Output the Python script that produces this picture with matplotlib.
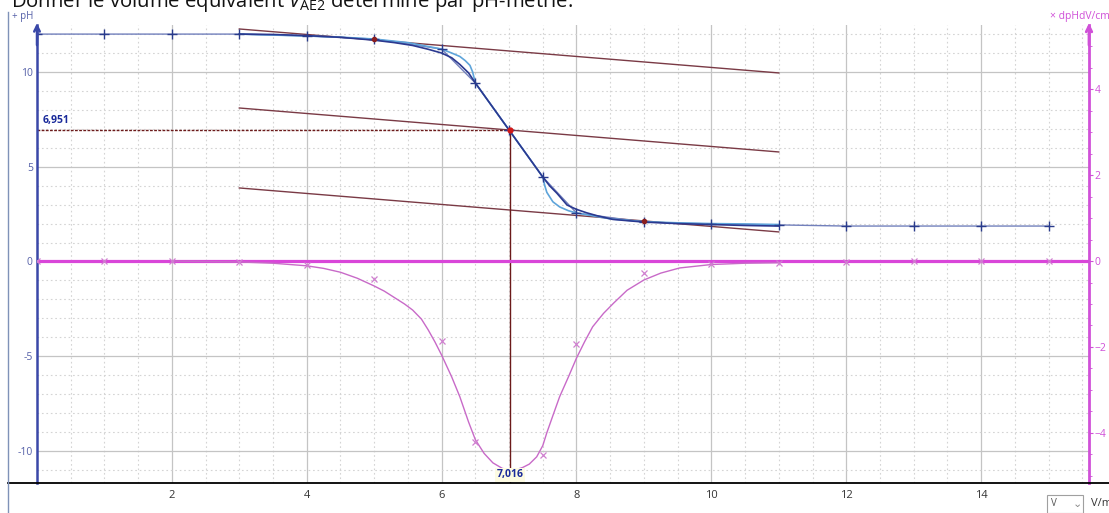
import matplotlib
matplotlib.use("Agg")
import matplotlib.pyplot as plt
from matplotlib.lines import Line2D

plt.rcParams['font.family'] = ['Open Sans', 'DejaVu Sans']
plt.rcParams['mathtext.fontset'] = 'custom'
plt.rcParams['mathtext.rm'] = 'Open Sans'
plt.rcParams['mathtext.it'] = 'Open Sans:italic'

# measured points (V in mL)
vol = [0, 1, 2, 3, 4, 5, 6, 6.5, 7, 7.5, 8, 9, 10, 11, 12, 13, 14, 15]
ph = [12.0, 12.0, 12.0, 12.0, 11.9, 11.74, 11.21, 9.42, 6.94, 4.46, 2.56, 2.08,
      1.98, 1.93, 1.87, 1.87, 1.87, 1.87]
dphdv = [0, 0, 0, -0.02, -0.09, -0.42, -1.86, -4.21, -4.92, -4.51, -1.93, -0.28,
         -0.07, -0.05, -0.03, 0, 0, 0]

# model curve (dark blue)
fit_v = [3.0, 3.5, 4.0, 4.5, 5.0, 5.3, 5.57, 5.8, 6.0, 6.15, 6.27, 6.4, 6.5, 6.75,
         7.0, 7.25, 7.5, 7.6, 7.71, 7.86, 8.0, 8.15, 8.3, 8.54, 8.8, 9.0, 9.5,
         10.0, 10.5, 11.0]
fit_ph = [12.0, 11.98, 11.92, 11.83, 11.68, 11.55, 11.4, 11.2, 11.0, 10.75, 10.4,
          9.95, 9.42, 8.18, 6.94, 5.7, 4.46, 4.0, 3.6, 2.98, 2.75, 2.57, 2.42,
          2.22, 2.14, 2.08, 2.0, 1.95, 1.9, 1.87]

# smoothing curve (light blue)
smooth_v = [3.0, 4.0, 4.5, 5.0, 5.5, 6.0, 6.15, 6.27, 6.35, 6.42, 6.46, 6.5, 7.0,
            7.5, 7.53, 7.56, 7.65, 7.75, 7.88, 8.0, 8.5, 9.0, 9.5, 10.0, 10.5, 11.0]
smooth_ph = [12.0, 11.9, 11.84, 11.74, 11.55, 11.21, 11.0, 10.82, 10.6, 10.35, 10.0,
             9.42, 6.94, 4.46, 4.0, 3.65, 3.15, 2.88, 2.68, 2.56, 2.25, 2.1, 2.04,
             2.0, 1.98, 1.95]

# derivative curve (magenta)
deriv_v = [2.0, 3.0, 3.5, 4.0, 4.25, 4.5, 4.75, 5.0, 5.15, 5.3, 5.45, 5.57, 5.7,
           5.8, 5.9, 6.0, 6.15, 6.27, 6.4, 6.5, 6.63, 6.76, 6.9, 7.0, 7.1, 7.2,
           7.3, 7.41, 7.5, 7.56, 7.65, 7.75, 7.88, 8.0, 8.12, 8.24, 8.4, 8.55,
           8.75, 9.0, 9.25, 9.53, 10.0, 10.5, 11.0]
deriv_d = [0, -0.02, -0.05, -0.11, -0.17, -0.26, -0.4, -0.58, -0.7, -0.85, -1.0,
           -1.14, -1.35, -1.6, -1.88, -2.19, -2.7, -3.16, -3.75, -4.16, -4.48,
           -4.7, -4.83, -4.86, -4.86, -4.81, -4.73, -4.56, -4.3, -4.0, -3.6, -3.16,
           -2.7, -2.26, -1.88, -1.53, -1.22, -0.98, -0.68, -0.44, -0.28, -0.16,
           -0.08, -0.05, -0.04]

# parallel tangents
tan_v = [3, 11]
tan_top = [12.27, 9.95]
tan_mid = [8.1, 5.78]
tan_bot = [3.88, 1.56]
touch_v = [5, 9]
touch_ph = [11.72, 2.14]

v_eq = 7.016
ph_eq = 6.951

W, H = 1109, 513
fig = plt.figure(figsize=(W / 100, H / 100), dpi=100)
ax = fig.add_axes([37 / W, 30 / H, (1089 - 37) / W, (483 - 25) / H])
ax2 = ax.twinx()

ax.set_xlim(0, 15.6)
ax.set_ylim(-11.69, 12.48)
ax2.set_ylim(-5.17, 5.50)

# grid
ax.set_xticks(range(2, 16, 2))
ax.set_xticks([i * 0.5 for i in range(1, 32)], minor=True)
ax.set_yticks([-10, -5, 0, 5, 10])
ax.set_yticks(range(-11, 13), minor=True)
ax.set_axisbelow(True)
ax.grid(which='major', color='#c4c4c4', lw=0.9, ls='-')
ax.grid(which='minor', color='#d4d4d4', lw=0.8, ls=(0, (1.5, 2.5)))

ax.tick_params(axis='x', which='both', length=0, pad=5, labelsize=8, labelcolor='#333333')
ax.tick_params(axis='y', which='both', length=0, pad=3, labelsize=7.5, labelcolor='#5560a8')
ax.set_yticklabels(['-10', '-5', '0', '5', '10'])

ax2.set_yticks([-4, -2, 0, 2, 4])
ax2.set_yticks([i * 0.5 for i in range(-10, 11)], minor=True)
ax2.tick_params(axis='y', which='major', length=3, width=0.8, color='#d050d8', pad=1,
                labelsize=7.5, labelcolor='#d050d8')
ax2.tick_params(axis='y', which='minor', length=2, width=0.6, color='#d050d8')

for s in ['top', 'bottom', 'right']:
    ax.spines[s].set_visible(False)
ax.spines['left'].set_color('#3a48a8')
ax.spines['left'].set_linewidth(1.8)
for s in ['top', 'bottom', 'left']:
    ax2.spines[s].set_visible(False)
ax2.spines['right'].set_color('#d050d8')
ax2.spines['right'].set_linewidth(2)

ax.annotate('', xy=(0, 1.01), xytext=(0, 0.95), xycoords='axes fraction',
            arrowprops=dict(arrowstyle='->', color='#3a48a8', lw=1.8))
ax2.annotate('', xy=(1, 1.01), xytext=(1, 0.95), xycoords='axes fraction',
             arrowprops=dict(arrowstyle='->', color='#d050d8', lw=2))

# tangents and equivalence point
for t in (tan_top, tan_mid, tan_bot):
    ax.plot(tan_v, t, color='#7a3a45', lw=1)
ax.plot([0, v_eq], [ph_eq, ph_eq], color='#6b1a1a', lw=1, ls=(0, (2, 1)))
ax.plot([v_eq, v_eq], [-11.69, ph_eq], color='#6b1a1a', lw=1)

# pH curves
ax.plot(vol, ph, color='#7280bc', lw=1)
ax.plot(smooth_v, smooth_ph, color='#5ea4da', lw=1.2)
ax.plot(fit_v, fit_ph, color='#2b3990', lw=1.2)
ax.plot(vol, ph, ls='none', marker='+', ms=7, mew=1, color='#2a3c8c')
ax.plot(touch_v, touch_ph, ls='none', marker='o', ms=3, color='#8b2020')
ax.plot([v_eq], [ph_eq], ls='none', marker='o', ms=3.5, color='#d01818')

# derivative
ax2.axhline(0, color='#d946d9', lw=2.3)
ax2.plot(deriv_v, deriv_d, color='#c86ac8', lw=1)
ax2.plot(vol, dphdv, ls='none', marker='x', ms=5, mew=0.9, color='#d080d0')

ax.text(0.08, ph_eq + 0.2, '6,951', color='#1a2a9a', fontsize=7.5,
        fontweight='bold', va='bottom', ha='left')
ax2.text(v_eq, -4.98, '7,016', color='#1a2a9a', fontsize=7.5, fontweight='bold',
         ha='center', va='center', transform=ax2.transData, zorder=10,
         bbox=dict(boxstyle='square,pad=0.15', fc='#fdfbe2', ec='none'))

# frame decorations
fig.add_artist(Line2D([8 / W, 1], [30 / H, 30 / H], color='black', lw=1.3))
fig.add_artist(Line2D([8 / W, 8 / W], [0, 1 - 12 / H], color='#7f92b8', lw=1))
fig.text(12 / W, 1 - 16 / H, '+ pH', color='#5560a8', fontsize=7, va='center')
fig.text(1050 / W, 1 - 17 / H, '× dpHdV/cm³', color='#d050d8', fontsize=7.5, va='center')
fig.text(11 / W, 1 - 6.5 / H,
         'Donner le volume équivalent $V_{\\rm AE2}$ déterminé par pH-métrie.',
         fontsize=14.6, va='baseline', color='#111111')

fig.add_artist(plt.Rectangle((1047 / W, 0), 36 / W, 18 / H, fill=False,
                             ec='#a0a0a0', lw=0.8))
fig.text(1051 / W, 9 / H, 'V', fontsize=7, color='#555555', va='center')
fig.text(1073 / W, 9 / H, '⌄', fontsize=8, color='#888888', va='center',
         family=['DejaVu Sans'])
fig.text(1091 / W, 9 / H, 'V/mL', fontsize=8, color='#333333', va='center')

fig.savefig('out.png', dpi=100)
